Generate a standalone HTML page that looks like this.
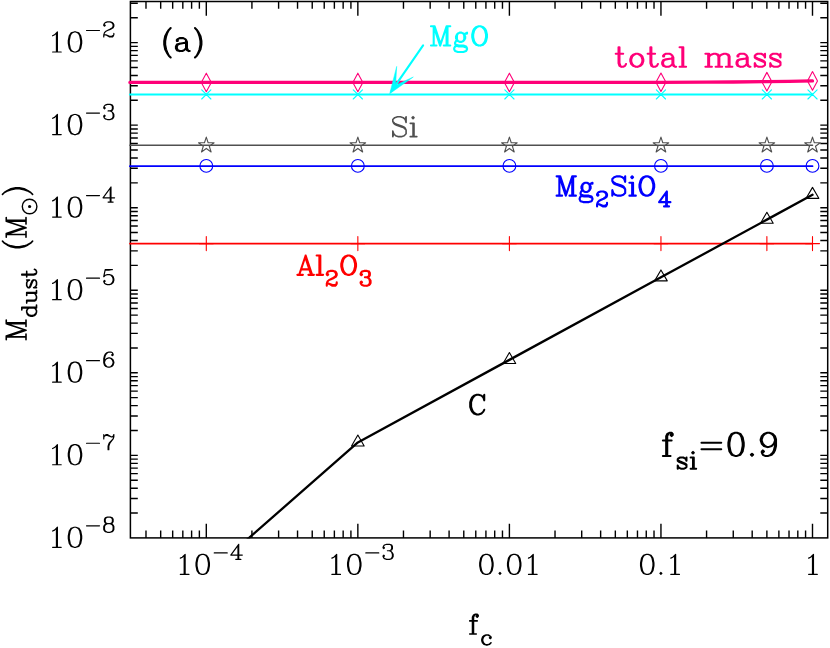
<!DOCTYPE html>
<html lang="en">
<head>
<meta charset="utf-8">
<title>Dust mass versus f_c (panel a, f_si = 0.9)</title>
<style>
html,body{margin:0;padding:0;background:#fff;}
body{width:830px;height:648px;overflow:hidden;font-family:"Liberation Serif",serif;}
svg{display:block;}
.txt text{font-family:"Liberation Serif",serif;fill:#000;fill-opacity:0;stroke:none;}
</style>
</head>
<body>
<svg width="830" height="648" viewBox="0 0 830 648" role="img" aria-label="Log-log plot of dust mass M_dust in solar masses versus f_c for f_si = 0.9">
<rect x="0" y="0" width="830" height="648" fill="#fff"/>
<defs><clipPath id="clipbox"><rect x="130" y="1" width="698" height="537.6"/></clipPath></defs>
<g class="plot">
<path d="M145.99 537.9V530.6M145.99 1.5V8.8M160.68 537.9V530.6M160.68 1.5V8.8M172.68 537.9V530.6M172.68 1.5V8.8M182.82 537.9V530.6M182.82 1.5V8.8M191.61 537.9V530.6M191.61 1.5V8.8M199.37 537.9V530.6M199.37 1.5V8.8M206.3 537.9V523.7M206.3 1.5V15.7M251.92 537.9V530.6M251.92 1.5V8.8M278.61 537.9V530.6M278.61 1.5V8.8M297.54 537.9V530.6M297.54 1.5V8.8M312.23 537.9V530.6M312.23 1.5V8.8M324.23 537.9V530.6M324.23 1.5V8.8M334.37 537.9V530.6M334.37 1.5V8.8M343.16 537.9V530.6M343.16 1.5V8.8M350.92 537.9V530.6M350.92 1.5V8.8M357.85 537.9V523.7M357.85 1.5V15.7M403.47 537.9V530.6M403.47 1.5V8.8M430.16 537.9V530.6M430.16 1.5V8.8M449.09 537.9V530.6M449.09 1.5V8.8M463.78 537.9V530.6M463.78 1.5V8.8M475.78 537.9V530.6M475.78 1.5V8.8M485.92 537.9V530.6M485.92 1.5V8.8M494.71 537.9V530.6M494.71 1.5V8.8M502.47 537.9V530.6M502.47 1.5V8.8M509.4 537.9V523.7M509.4 1.5V15.7M555.02 537.9V530.6M555.02 1.5V8.8M581.71 537.9V530.6M581.71 1.5V8.8M600.64 537.9V530.6M600.64 1.5V8.8M615.33 537.9V530.6M615.33 1.5V8.8M627.33 537.9V530.6M627.33 1.5V8.8M637.47 537.9V530.6M637.47 1.5V8.8M646.26 537.9V530.6M646.26 1.5V8.8M654.02 537.9V530.6M654.02 1.5V8.8M660.95 537.9V523.7M660.95 1.5V15.7M706.57 537.9V530.6M706.57 1.5V8.8M733.26 537.9V530.6M733.26 1.5V8.8M752.19 537.9V530.6M752.19 1.5V8.8M766.88 537.9V530.6M766.88 1.5V8.8M778.88 537.9V530.6M778.88 1.5V8.8M789.02 537.9V530.6M789.02 1.5V8.8M797.81 537.9V530.6M797.81 1.5V8.8M805.57 537.9V530.6M805.57 1.5V8.8M812.5 537.9V523.7M812.5 1.5V15.7M130.4 513.05H137.8M827.7 513.05H820.3M130.4 498.51H137.8M827.7 498.51H820.3M130.4 488.2H137.8M827.7 488.2H820.3M130.4 480.2H137.8M827.7 480.2H820.3M130.4 473.66H137.8M827.7 473.66H820.3M130.4 468.14H137.8M827.7 468.14H820.3M130.4 463.35H137.8M827.7 463.35H820.3M130.4 459.13H137.8M827.7 459.13H820.3M130.4 455.35H137.8M827.7 455.35H820.3M130.4 430.5H137.8M827.7 430.5H820.3M130.4 415.96H137.8M827.7 415.96H820.3M130.4 405.65H137.8M827.7 405.65H820.3M130.4 397.65H137.8M827.7 397.65H820.3M130.4 391.11H137.8M827.7 391.11H820.3M130.4 385.59H137.8M827.7 385.59H820.3M130.4 380.8H137.8M827.7 380.8H820.3M130.4 376.58H137.8M827.7 376.58H820.3M130.4 372.8H137.8M827.7 372.8H820.3M130.4 347.95H137.8M827.7 347.95H820.3M130.4 333.41H137.8M827.7 333.41H820.3M130.4 323.1H137.8M827.7 323.1H820.3M130.4 315.1H137.8M827.7 315.1H820.3M130.4 308.56H137.8M827.7 308.56H820.3M130.4 303.04H137.8M827.7 303.04H820.3M130.4 298.25H137.8M827.7 298.25H820.3M130.4 294.03H137.8M827.7 294.03H820.3M130.4 290.25H137.8M827.7 290.25H820.3M130.4 265.4H137.8M827.7 265.4H820.3M130.4 250.86H137.8M827.7 250.86H820.3M130.4 240.55H137.8M827.7 240.55H820.3M130.4 232.55H137.8M827.7 232.55H820.3M130.4 226.01H137.8M827.7 226.01H820.3M130.4 220.49H137.8M827.7 220.49H820.3M130.4 215.7H137.8M827.7 215.7H820.3M130.4 211.48H137.8M827.7 211.48H820.3M130.4 207.7H137.8M827.7 207.7H820.3M130.4 182.85H137.8M827.7 182.85H820.3M130.4 168.31H137.8M827.7 168.31H820.3M130.4 158H137.8M827.7 158H820.3M130.4 150H137.8M827.7 150H820.3M130.4 143.46H137.8M827.7 143.46H820.3M130.4 137.94H137.8M827.7 137.94H820.3M130.4 133.15H137.8M827.7 133.15H820.3M130.4 128.93H137.8M827.7 128.93H820.3M130.4 125.15H137.8M827.7 125.15H820.3M130.4 100.3H137.8M827.7 100.3H820.3M130.4 85.76H137.8M827.7 85.76H820.3M130.4 75.45H137.8M827.7 75.45H820.3M130.4 67.45H137.8M827.7 67.45H820.3M130.4 60.91H137.8M827.7 60.91H820.3M130.4 55.39H137.8M827.7 55.39H820.3M130.4 50.6H137.8M827.7 50.6H820.3M130.4 46.38H137.8M827.7 46.38H820.3M130.4 42.6H137.8M827.7 42.6H820.3M130.4 17.75H137.8M827.7 17.75H820.3M130.4 3.21H137.8M827.7 3.21H820.3" fill="none" stroke="#000" stroke-width="1.4" stroke-linecap="butt"/>
<rect x="130.4" y="1.5" width="697.3" height="536.4" fill="none" stroke="#000" stroke-width="1.5"/>
<path d="M129.9 82.46 L206.3 82.46 L357.85 82.45 L509.4 82.44 L581.71 82.41 L660.95 82.3 L706.57 82.14 L733.26 81.98 L766.88 81.67 L789.02 81.37 L812.5 80.91" fill="none" stroke="#ff0078" stroke-width="3.3" stroke-linecap="round" stroke-linejoin="round"/>
<path d="M206.3 73.16L211.3 82.46L206.3 91.76L201.3 82.46ZM357.85 73.15L362.85 82.45L357.85 91.75L352.85 82.45ZM509.4 73.14L514.4 82.44L509.4 91.74L504.4 82.44ZM660.95 73L665.95 82.3L660.95 91.6L655.95 82.3ZM766.88 72.37L771.88 81.67L766.88 90.97L761.88 81.67ZM812.5 71.61L817.5 80.91L812.5 90.21L807.5 80.91Z" fill="none" stroke="#ff0078" stroke-width="1.1" stroke-linecap="round" stroke-linejoin="round"/>
<path d="M129.9 94.4H812.5" fill="none" stroke="#00ffff" stroke-width="2" stroke-linecap="round" stroke-linejoin="round"/>
<path d="M201.7 89.8L210.9 99M201.7 99L210.9 89.8M353.25 89.8L362.45 99M353.25 99L362.45 89.8M504.8 89.8L514 99M504.8 99L514 89.8M656.35 89.8L665.55 99M656.35 99L665.55 89.8M762.28 89.8L771.48 99M762.28 99L771.48 89.8M807.9 89.8L817.1 99M807.9 99L817.1 89.8" fill="none" stroke="#00ffff" stroke-width="1.1" stroke-linecap="round" stroke-linejoin="round"/>
<path d="M129.9 145.15H812.5" fill="none" stroke="#505050" stroke-width="1.5" stroke-linecap="round" stroke-linejoin="round"/>
<path d="M206.3 137.1 L208.14 142.77 L214.1 142.77 L209.28 146.27 L211.12 151.93 L206.3 148.43 L201.48 151.93 L203.32 146.27 L198.5 142.77 L204.46 142.77ZM357.85 137.1 L359.69 142.77 L365.65 142.77 L360.83 146.27 L362.67 151.93 L357.85 148.43 L353.03 151.93 L354.87 146.27 L350.05 142.77 L356.01 142.77ZM509.4 137.1 L511.24 142.77 L517.2 142.77 L512.38 146.27 L514.22 151.93 L509.4 148.43 L504.58 151.93 L506.42 146.27 L501.6 142.77 L507.56 142.77ZM660.95 137.1 L662.79 142.77 L668.75 142.77 L663.93 146.27 L665.77 151.93 L660.95 148.43 L656.13 151.93 L657.97 146.27 L653.15 142.77 L659.11 142.77ZM766.88 137.1 L768.72 142.77 L774.68 142.77 L769.86 146.27 L771.7 151.93 L766.88 148.43 L762.06 151.93 L763.9 146.27 L759.08 142.77 L765.04 142.77ZM812.5 137.1 L814.34 142.77 L820.3 142.77 L815.48 146.27 L817.32 151.93 L812.5 148.43 L807.68 151.93 L809.52 146.27 L804.7 142.77 L810.66 142.77Z" fill="none" stroke="#505050" stroke-width="1.1" stroke-linecap="round" stroke-linejoin="round"/>
<path d="M129.9 166.15H812.5" fill="none" stroke="#0000ff" stroke-width="1.8" stroke-linecap="round" stroke-linejoin="round"/>
<circle cx="206.3" cy="165.9" r="6.4" fill="none" stroke="#0000ff" stroke-width="1.1"/>
<circle cx="357.85" cy="165.9" r="6.4" fill="none" stroke="#0000ff" stroke-width="1.1"/>
<circle cx="509.4" cy="165.9" r="6.4" fill="none" stroke="#0000ff" stroke-width="1.1"/>
<circle cx="660.95" cy="165.9" r="6.4" fill="none" stroke="#0000ff" stroke-width="1.1"/>
<circle cx="766.88" cy="165.9" r="6.4" fill="none" stroke="#0000ff" stroke-width="1.1"/>
<circle cx="812.5" cy="165.9" r="6.4" fill="none" stroke="#0000ff" stroke-width="1.1"/>
<path d="M129.9 243.6H812.5" fill="none" stroke="#ff0000" stroke-width="1.7" stroke-linecap="round" stroke-linejoin="round"/>
<path d="M206.3 236.6V250.6M199.3 243.6H213.3M357.85 236.6V250.6M350.85 243.6H364.85M509.4 236.6V250.6M502.4 243.6H516.4M660.95 236.6V250.6M653.95 243.6H667.95M766.88 236.6V250.6M759.88 243.6H773.88M812.5 236.6V250.6M805.5 243.6H819.5" fill="none" stroke="#ff0000" stroke-width="1.1" stroke-linecap="round" stroke-linejoin="round"/>
<path d="M244.44 541.9 L357.85 442.43 L509.4 359.88 L660.95 277.33 L766.88 219.63 L812.5 194.78" fill="none" stroke="#000" stroke-width="2.3" stroke-linecap="round" stroke-linejoin="round" clip-path="url(#clipbox)"/>
<path d="M357.85 435.03 L364.17 445.98 L351.53 445.98ZM509.4 352.48 L515.72 363.43 L503.08 363.43ZM660.95 269.93 L667.27 280.88 L654.63 280.88ZM766.88 212.23 L773.2 223.18 L760.56 223.18ZM812.5 187.38 L818.82 198.33 L806.18 198.33Z" fill="none" stroke="#000" stroke-width="1.1" stroke-linecap="round" stroke-linejoin="round"/>
<path d="M423.1 45.4L391.5 91.2" fill="none" stroke="#00ffff" stroke-width="2.1" stroke-linecap="round" stroke-linejoin="round"/>
<path d="M389.7 93.7L396.7 66.4L395.6 85.2L413.3 77Z" fill="#00ffff" stroke="#00ffff" stroke-width="0.5" stroke-linejoin="round"/>
<path d="M52.62 35.77 L54.53 34.81 L57.39 31.95 L57.39 52M56.44 32.9 L56.44 52M52.62 52 L61.21 52M74.03 31.95 L71.16 32.9 L69.25 35.77 L68.3 40.54 L68.3 43.41 L69.25 48.18 L71.16 51.05 L74.03 52 L75.94 52 L78.8 51.05 L80.71 48.18 L81.67 43.41 L81.67 40.54 L80.71 35.77 L78.8 32.9 L75.94 31.95 L74.03 31.95M74.03 31.95 L72.12 32.9 L71.16 33.86 L70.2 35.77 L69.25 40.54 L69.25 43.41 L70.2 48.18 L71.16 50.09 L72.12 51.05 L74.03 52M75.94 52 L77.84 51.05 L78.8 50.09 L79.76 48.18 L80.71 43.41 L80.71 40.54 L79.76 35.77 L78.8 33.86 L77.84 32.9 L75.94 31.95M86.52 30.52 L99.48 30.52M104.49 24.76 L105.21 25.48 L104.49 26.2 L103.77 25.48 L103.77 24.76 L104.49 23.32 L105.21 22.6 L107.37 21.88 L110.25 21.88 L112.41 22.6 L113.13 23.32 L113.85 24.76 L113.85 26.2 L113.13 27.64 L110.97 29.08 L107.37 30.52 L105.93 31.24 L104.49 32.68 L103.77 34.84 L103.77 37M110.25 21.88 L111.69 22.6 L112.41 23.32 L113.13 24.76 L113.13 26.2 L112.41 27.64 L110.25 29.08 L107.37 30.52M103.77 35.56 L104.49 34.84 L105.93 34.84 L109.53 36.28 L111.69 36.28 L113.13 35.56 L113.85 34.84M105.93 34.84 L109.53 37 L112.41 37 L113.13 36.28 L113.85 34.84 L113.85 33.4M52.62 118.32 L54.53 117.36 L57.39 114.5 L57.39 134.55M56.44 115.45 L56.44 134.55M52.62 134.55 L61.21 134.55M74.03 114.5 L71.16 115.45 L69.25 118.32 L68.3 123.09 L68.3 125.96 L69.25 130.73 L71.16 133.59 L74.03 134.55 L75.94 134.55 L78.8 133.59 L80.71 130.73 L81.67 125.96 L81.67 123.09 L80.71 118.32 L78.8 115.45 L75.94 114.5 L74.03 114.5M74.03 114.5 L72.12 115.45 L71.16 116.41 L70.2 118.32 L69.25 123.09 L69.25 125.96 L70.2 130.73 L71.16 132.64 L72.12 133.59 L74.03 134.55M75.94 134.55 L77.84 133.59 L78.8 132.64 L79.76 130.73 L80.71 125.96 L80.71 123.09 L79.76 118.32 L78.8 116.41 L77.84 115.45 L75.94 114.5M86.52 113.07 L99.48 113.07M104.49 107.31 L105.21 108.03 L104.49 108.75 L103.77 108.03 L103.77 107.31 L104.49 105.87 L105.21 105.15 L107.37 104.43 L110.25 104.43 L112.41 105.15 L113.13 106.59 L113.13 108.75 L112.41 110.19 L110.25 110.91 L108.09 110.91M110.25 104.43 L111.69 105.15 L112.41 106.59 L112.41 108.75 L111.69 110.19 L110.25 110.91M110.25 110.91 L111.69 111.63 L113.13 113.07 L113.85 114.51 L113.85 116.67 L113.13 118.11 L112.41 118.83 L110.25 119.55 L107.37 119.55 L105.21 118.83 L104.49 118.11 L103.77 116.67 L103.77 115.95 L104.49 115.23 L105.21 115.95 L104.49 116.67M112.41 112.35 L113.13 114.51 L113.13 116.67 L112.41 118.11 L111.69 118.83 L110.25 119.55M52.62 200.87 L54.53 199.91 L57.39 197.04 L57.39 217.1M56.44 198 L56.44 217.1M52.62 217.1 L61.21 217.1M74.03 197.04 L71.16 198 L69.25 200.87 L68.3 205.64 L68.3 208.5 L69.25 213.28 L71.16 216.14 L74.03 217.1 L75.94 217.1 L78.8 216.14 L80.71 213.28 L81.67 208.5 L81.67 205.64 L80.71 200.87 L78.8 198 L75.94 197.04 L74.03 197.04M74.03 197.04 L72.12 198 L71.16 198.95 L70.2 200.87 L69.25 205.64 L69.25 208.5 L70.2 213.28 L71.16 215.19 L72.12 216.14 L74.03 217.1M75.94 217.1 L77.84 216.14 L78.8 215.19 L79.76 213.28 L80.71 208.5 L80.71 205.64 L79.76 200.87 L78.8 198.95 L77.84 198 L75.94 197.04M86.52 195.62 L99.48 195.62M110.25 188.42 L110.25 202.1M110.97 186.98 L110.97 202.1M110.97 186.98 L103.05 197.78 L114.57 197.78M108.09 202.1 L113.13 202.1M52.62 283.41 L54.53 282.46 L57.39 279.59 L57.39 299.65M56.44 280.55 L56.44 299.65M52.62 299.65 L61.21 299.65M74.03 279.59 L71.16 280.55 L69.25 283.41 L68.3 288.19 L68.3 291.05 L69.25 295.83 L71.16 298.69 L74.03 299.65 L75.94 299.65 L78.8 298.69 L80.71 295.83 L81.67 291.05 L81.67 288.19 L80.71 283.41 L78.8 280.55 L75.94 279.59 L74.03 279.59M74.03 279.59 L72.12 280.55 L71.16 281.5 L70.2 283.41 L69.25 288.19 L69.25 291.05 L70.2 295.83 L71.16 297.74 L72.12 298.69 L74.03 299.65M75.94 299.65 L77.84 298.69 L78.8 297.74 L79.76 295.83 L80.71 291.05 L80.71 288.19 L79.76 283.41 L78.8 281.5 L77.84 280.55 L75.94 279.59M86.52 278.17 L99.48 278.17M105.21 269.53 L103.77 276.73M103.77 276.73 L105.21 275.29 L107.37 274.57 L109.53 274.57 L111.69 275.29 L113.13 276.73 L113.85 278.89 L113.85 280.33 L113.13 282.49 L111.69 283.93 L109.53 284.65 L107.37 284.65 L105.21 283.93 L104.49 283.21 L103.77 281.77 L103.77 281.05 L104.49 280.33 L105.21 281.05 L104.49 281.77M109.53 274.57 L110.97 275.29 L112.41 276.73 L113.13 278.89 L113.13 280.33 L112.41 282.49 L110.97 283.93 L109.53 284.65M105.21 269.53 L112.41 269.53M105.21 270.25 L108.81 270.25 L112.41 269.53M52.62 365.96 L54.53 365.01 L57.39 362.14 L57.39 382.2M56.44 363.1 L56.44 382.2M52.62 382.2 L61.21 382.2M74.03 362.14 L71.16 363.1 L69.25 365.96 L68.3 370.74 L68.3 373.61 L69.25 378.38 L71.16 381.25 L74.03 382.2 L75.94 382.2 L78.8 381.25 L80.71 378.38 L81.67 373.61 L81.67 370.74 L80.71 365.96 L78.8 363.1 L75.94 362.14 L74.03 362.14M74.03 362.14 L72.12 363.1 L71.16 364.06 L70.2 365.96 L69.25 370.74 L69.25 373.61 L70.2 378.38 L71.16 380.29 L72.12 381.25 L74.03 382.2M75.94 382.2 L77.84 381.25 L78.8 380.29 L79.76 378.38 L80.71 373.61 L80.71 370.74 L79.76 365.96 L78.8 364.06 L77.84 363.1 L75.94 362.14M86.52 360.72 L99.48 360.72M112.41 354.24 L111.69 354.96 L112.41 355.68 L113.13 354.96 L113.13 354.24 L112.41 352.8 L110.97 352.08 L108.81 352.08 L106.65 352.8 L105.21 354.24 L104.49 355.68 L103.77 358.56 L103.77 362.88 L104.49 365.04 L105.93 366.48 L108.09 367.2 L109.53 367.2 L111.69 366.48 L113.13 365.04 L113.85 362.88 L113.85 362.16 L113.13 360 L111.69 358.56 L109.53 357.84 L108.81 357.84 L106.65 358.56 L105.21 360 L104.49 362.16M108.81 352.08 L107.37 352.8 L105.93 354.24 L105.21 355.68 L104.49 358.56 L104.49 362.88 L105.21 365.04 L106.65 366.48 L108.09 367.2M109.53 367.2 L110.97 366.48 L112.41 365.04 L113.13 362.88 L113.13 362.16 L112.41 360 L110.97 358.56 L109.53 357.84M52.62 448.51 L54.53 447.56 L57.39 444.69 L57.39 464.75M56.44 445.65 L56.44 464.75M52.62 464.75 L61.21 464.75M74.03 444.69 L71.16 445.65 L69.25 448.51 L68.3 453.29 L68.3 456.15 L69.25 460.93 L71.16 463.8 L74.03 464.75 L75.94 464.75 L78.8 463.8 L80.71 460.93 L81.67 456.15 L81.67 453.29 L80.71 448.51 L78.8 445.65 L75.94 444.69 L74.03 444.69M74.03 444.69 L72.12 445.65 L71.16 446.61 L70.2 448.51 L69.25 453.29 L69.25 456.15 L70.2 460.93 L71.16 462.84 L72.12 463.8 L74.03 464.75M75.94 464.75 L77.84 463.8 L78.8 462.84 L79.76 460.93 L80.71 456.15 L80.71 453.29 L79.76 448.51 L78.8 446.61 L77.84 445.65 L75.94 444.69M86.52 443.27 L99.48 443.27M103.77 434.63 L103.77 438.95M103.77 437.51 L104.49 436.07 L105.93 434.63 L107.37 434.63 L110.97 436.79 L112.41 436.79 L113.13 436.07 L113.85 434.63M104.49 436.07 L105.93 435.35 L107.37 435.35 L110.97 436.79M113.85 434.63 L113.85 436.79 L113.13 438.95 L110.25 442.55 L109.53 443.99 L108.81 446.15 L108.81 449.75M113.13 438.95 L109.53 442.55 L108.81 443.99 L108.09 446.15 L108.09 449.75M52.62 531.06 L54.53 530.11 L57.39 527.25 L57.39 547.3M56.44 528.2 L56.44 547.3M52.62 547.3 L61.21 547.3M74.03 527.25 L71.16 528.2 L69.25 531.06 L68.3 535.84 L68.3 538.7 L69.25 543.48 L71.16 546.34 L74.03 547.3 L75.94 547.3 L78.8 546.34 L80.71 543.48 L81.67 538.7 L81.67 535.84 L80.71 531.06 L78.8 528.2 L75.94 527.25 L74.03 527.25M74.03 527.25 L72.12 528.2 L71.16 529.15 L70.2 531.06 L69.25 535.84 L69.25 538.7 L70.2 543.48 L71.16 545.39 L72.12 546.34 L74.03 547.3M75.94 547.3 L77.84 546.34 L78.8 545.39 L79.76 543.48 L80.71 538.7 L80.71 535.84 L79.76 531.06 L78.8 529.15 L77.84 528.2 L75.94 527.25M86.52 525.82 L99.48 525.82M107.37 517.18 L105.21 517.9 L104.49 519.34 L104.49 521.5 L105.21 522.94 L107.37 523.66 L110.25 523.66 L112.41 522.94 L113.13 521.5 L113.13 519.34 L112.41 517.9 L110.25 517.18 L107.37 517.18M107.37 517.18 L105.93 517.9 L105.21 519.34 L105.21 521.5 L105.93 522.94 L107.37 523.66M110.25 523.66 L111.69 522.94 L112.41 521.5 L112.41 519.34 L111.69 517.9 L110.25 517.18M107.37 523.66 L105.21 524.38 L104.49 525.1 L103.77 526.54 L103.77 529.42 L104.49 530.86 L105.21 531.58 L107.37 532.3 L110.25 532.3 L112.41 531.58 L113.13 530.86 L113.85 529.42 L113.85 526.54 L113.13 525.1 L112.41 524.38 L110.25 523.66M107.37 523.66 L105.93 524.38 L105.21 525.1 L104.49 526.54 L104.49 529.42 L105.21 530.86 L105.93 531.58 L107.37 532.3M110.25 532.3 L111.69 531.58 L112.41 530.86 L113.13 529.42 L113.13 526.54 L112.41 525.1 L111.69 524.38 L110.25 523.66M180.36 558.16 L182.27 557.21 L185.14 554.35 L185.14 574.4M184.18 555.3 L184.18 574.4M180.36 574.4 L188.96 574.4M201.76 554.35 L198.9 555.3 L196.99 558.16 L196.03 562.94 L196.03 565.8 L196.99 570.58 L198.9 573.44 L201.76 574.4 L203.68 574.4 L206.54 573.44 L208.45 570.58 L209.41 565.8 L209.41 562.94 L208.45 558.16 L206.54 555.3 L203.68 554.35 L201.76 554.35M201.76 554.35 L199.85 555.3 L198.9 556.25 L197.94 558.16 L196.99 562.94 L196.99 565.8 L197.94 570.58 L198.9 572.49 L199.85 573.44 L201.76 574.4M203.68 574.4 L205.59 573.44 L206.54 572.49 L207.5 570.58 L208.45 565.8 L208.45 562.94 L207.5 558.16 L206.54 556.25 L205.59 555.3 L203.68 554.35M214.26 552.92 L227.22 552.92M237.99 545.72 L237.99 559.4M238.71 544.28 L238.71 559.4M238.71 544.28 L230.79 555.08 L242.31 555.08M235.83 559.4 L240.87 559.4M331.91 558.16 L333.82 557.21 L336.68 554.35 L336.68 574.4M335.73 555.3 L335.73 574.4M331.91 574.4 L340.5 574.4M353.31 554.35 L350.45 555.3 L348.54 558.16 L347.58 562.94 L347.58 565.8 L348.54 570.58 L350.45 573.44 L353.31 574.4 L355.22 574.4 L358.09 573.44 L360 570.58 L360.95 565.8 L360.95 562.94 L360 558.16 L358.09 555.3 L355.22 554.35 L353.31 554.35M353.31 554.35 L351.4 555.3 L350.45 556.25 L349.5 558.16 L348.54 562.94 L348.54 565.8 L349.5 570.58 L350.45 572.49 L351.4 573.44 L353.31 574.4M355.22 574.4 L357.13 573.44 L358.09 572.49 L359.04 570.58 L360 565.8 L360 562.94 L359.04 558.16 L358.09 556.25 L357.13 555.3 L355.22 554.35M365.81 552.92 L378.77 552.92M383.78 547.16 L384.5 547.88 L383.78 548.6 L383.06 547.88 L383.06 547.16 L383.78 545.72 L384.5 545 L386.66 544.28 L389.54 544.28 L391.7 545 L392.42 546.44 L392.42 548.6 L391.7 550.04 L389.54 550.76 L387.38 550.76M389.54 544.28 L390.98 545 L391.7 546.44 L391.7 548.6 L390.98 550.04 L389.54 550.76M389.54 550.76 L390.98 551.48 L392.42 552.92 L393.14 554.36 L393.14 556.52 L392.42 557.96 L391.7 558.68 L389.54 559.4 L386.66 559.4 L384.5 558.68 L383.78 557.96 L383.06 556.52 L383.06 555.8 L383.78 555.08 L384.5 555.8 L383.78 556.52M391.7 552.2 L392.42 554.36 L392.42 556.52 L391.7 557.96 L390.98 558.68 L389.54 559.4M485.44 554.35 L482.58 555.3 L480.67 558.16 L479.71 562.94 L479.71 565.8 L480.67 570.58 L482.58 573.44 L485.44 574.4 L487.35 574.4 L490.22 573.44 L492.13 570.58 L493.08 565.8 L493.08 562.94 L492.13 558.16 L490.22 555.3 L487.35 554.35 L485.44 554.35M485.44 554.35 L483.53 555.3 L482.58 556.25 L481.62 558.16 L480.67 562.94 L480.67 565.8 L481.62 570.58 L482.58 572.49 L483.53 573.44 L485.44 574.4M487.35 574.4 L489.26 573.44 L490.22 572.49 L491.17 570.58 L492.13 565.8 L492.13 562.94 L491.17 558.16 L490.22 556.25 L489.26 555.3 L487.35 554.35M499.98 572.49 L499.03 573.44 L499.98 574.4 L500.94 573.44 L499.98 572.49M513.25 554.35 L510.38 555.3 L508.47 558.16 L507.52 562.94 L507.52 565.8 L508.47 570.58 L510.38 573.44 L513.25 574.4 L515.16 574.4 L518.02 573.44 L519.93 570.58 L520.88 565.8 L520.88 562.94 L519.93 558.16 L518.02 555.3 L515.16 554.35 L513.25 554.35M513.25 554.35 L511.34 555.3 L510.38 556.25 L509.43 558.16 L508.47 562.94 L508.47 565.8 L509.43 570.58 L510.38 572.49 L511.34 573.44 L513.25 574.4M515.16 574.4 L517.07 573.44 L518.02 572.49 L518.98 570.58 L519.93 565.8 L519.93 562.94 L518.98 558.16 L518.02 556.25 L517.07 555.3 L515.16 554.35M528.48 558.16 L530.39 557.21 L533.25 554.35 L533.25 574.4M532.3 555.3 L532.3 574.4M528.48 574.4 L537.07 574.4M646.29 554.35 L643.43 555.3 L641.52 558.16 L640.57 562.94 L640.57 565.8 L641.52 570.58 L643.43 573.44 L646.29 574.4 L648.21 574.4 L651.07 573.44 L652.98 570.58 L653.93 565.8 L653.93 562.94 L652.98 558.16 L651.07 555.3 L648.21 554.35 L646.29 554.35M646.29 554.35 L644.38 555.3 L643.43 556.25 L642.48 558.16 L641.52 562.94 L641.52 565.8 L642.48 570.58 L643.43 572.49 L644.38 573.44 L646.29 574.4M648.21 574.4 L650.12 573.44 L651.07 572.49 L652.02 570.58 L652.98 565.8 L652.98 562.94 L652.02 558.16 L651.07 556.25 L650.12 555.3 L648.21 554.35M660.9 572.49 L659.94 573.44 L660.9 574.4 L661.86 573.44 L660.9 572.49M670.83 558.16 L672.74 557.21 L675.61 554.35 L675.61 574.4M674.65 555.3 L674.65 574.4M670.83 574.4 L679.42 574.4M808.68 558.16 L810.59 557.21 L813.46 554.35 L813.46 574.4M812.5 555.3 L812.5 574.4M808.68 574.4 L817.27 574.4" fill="none" stroke="#000" stroke-width="1.2" stroke-linecap="round" stroke-linejoin="round"/>
<path d="M477.22 615.25 L476.28 616.19 L477.22 617.13 L478.16 616.19 L478.16 615.25 L477.22 614.31 L475.34 614.31 L473.46 615.25 L472.52 617.13 L472.52 634.05M475.34 614.31 L474.4 615.25 L473.46 617.13 L473.46 634.05M469.7 620.89 L477.22 620.89M469.7 634.05 L476.28 634.05M490.3 637.15 L489.6 637.85 L490.3 638.55 L491 637.85 L491 637.15 L489.6 635.75 L488.2 635.05 L486.1 635.05 L484 635.75 L482.6 637.15 L481.9 639.25 L481.9 640.65 L482.6 642.75 L484 644.15 L486.1 644.85 L487.5 644.85 L489.6 644.15 L491 642.75M486.1 635.05 L484.7 635.75 L483.3 637.15 L482.6 639.25 L482.6 640.65 L483.3 642.75 L484.7 644.15 L486.1 644.85M6.26 336.88 L26 336.88M6.26 335.94 L23.18 330.3M6.26 336.88 L26 330.3M6.26 323.72 L26 330.3M6.26 323.72 L26 323.72M6.26 322.78 L26 322.78M6.26 339.7 L6.26 335.94M6.26 323.72 L6.26 319.96M26 339.7 L26 334.06M26 326.54 L26 319.96M21.8 307.9 L36.5 307.9M21.8 307.2 L36.5 307.2M28.8 307.9 L27.4 309.3 L26.7 310.7 L26.7 312.1 L27.4 314.2 L28.8 315.6 L30.9 316.3 L32.3 316.3 L34.4 315.6 L35.8 314.2 L36.5 312.1 L36.5 310.7 L35.8 309.3 L34.4 307.9M26.7 312.1 L27.4 313.5 L28.8 314.9 L30.9 315.6 L32.3 315.6 L34.4 314.9 L35.8 313.5 L36.5 312.1M21.8 310 L21.8 307.2M36.5 307.9 L36.5 305.1M26.7 301 L34.4 301 L35.8 300.3 L36.5 298.2 L36.5 296.8 L35.8 294.7 L34.4 293.3M26.7 300.3 L34.4 300.3 L35.8 299.6 L36.5 298.2M26.7 293.3 L36.5 293.3M26.7 292.6 L36.5 292.6M26.7 303.1 L26.7 300.3M26.7 295.4 L26.7 292.6M36.5 293.3 L36.5 290.5M28.1 280.65 L26.7 279.95 L29.5 279.95 L28.1 280.65 L27.4 281.35 L26.7 282.75 L26.7 285.55 L27.4 286.95 L28.1 287.65 L29.5 287.65 L30.2 286.95 L30.9 285.55 L32.3 282.05 L33 280.65 L33.7 279.95M28.8 287.65 L29.5 286.95 L30.2 285.55 L31.6 282.05 L32.3 280.65 L33 279.95 L35.1 279.95 L35.8 280.65 L36.5 282.05 L36.5 284.85 L35.8 286.25 L35.1 286.95 L33.7 287.65 L36.5 287.65 L35.1 286.95M21.8 274.9 L33.7 274.9 L35.8 274.2 L36.5 272.8 L36.5 271.4 L35.8 270 L34.4 269.3M21.8 274.2 L33.7 274.2 L35.8 273.5 L36.5 272.8M26.7 277 L26.7 271.4M2.5 241.19 L4.38 243.07 L7.2 244.95 L10.96 246.83 L15.66 247.77 L19.42 247.77 L24.12 246.83 L27.88 244.95 L30.7 243.07 L32.58 241.19M4.38 243.07 L8.14 244.95 L10.96 245.89 L15.66 246.83 L19.42 246.83 L24.12 245.89 L26.94 244.95 L30.7 243.07M6.26 234.43 L26 234.43M6.26 233.49 L23.18 227.85M6.26 234.43 L26 227.85M6.26 221.27 L26 227.85M6.26 221.27 L26 221.27M6.26 220.33 L26 220.33M6.26 237.25 L6.26 233.49M6.26 221.27 L6.26 217.51M26 237.25 L26 231.61M26 224.09 L26 217.51M2.5 194.41 L4.38 192.53 L7.2 190.65 L10.96 188.77 L15.66 187.83 L19.42 187.83 L24.12 188.77 L27.88 190.65 L30.7 192.53 L32.58 194.41M4.38 192.53 L8.14 190.65 L10.96 189.71 L15.66 188.77 L19.42 188.77 L24.12 189.71 L26.94 190.65 L30.7 192.53" fill="none" stroke="#000" stroke-width="1.6" stroke-linecap="round" stroke-linejoin="round"/>
<circle cx="29.6" cy="206.5" r="7.3" fill="none" stroke="#000" stroke-width="1.4"/>
<circle cx="29.6" cy="206.5" r="1.6" fill="#000"/>
<path d="M170.68 28.05 L168.84 29.89 L167 32.65 L165.16 36.33 L164.24 40.93 L164.24 44.61 L165.16 49.21 L167 52.89 L168.84 55.65 L170.68 57.49M168.84 29.89 L167 33.57 L166.08 36.33 L165.16 40.93 L165.16 44.61 L166.08 49.21 L167 51.97 L168.84 55.65M177.77 40.01 L177.77 40.93 L176.85 40.93 L176.85 40.01 L177.77 39.09 L179.61 38.17 L183.29 38.17 L185.13 39.09 L186.05 40.01 L186.97 41.85 L186.97 48.29 L187.89 50.13 L188.81 51.05M186.05 40.01 L186.05 48.29 L186.97 50.13 L188.81 51.05 L189.73 51.05M186.05 41.85 L185.13 42.77 L179.61 43.69 L176.85 44.61 L175.93 46.45 L175.93 48.29 L176.85 50.13 L179.61 51.05 L182.37 51.05 L184.21 50.13 L186.05 48.29M179.61 43.69 L177.77 44.61 L176.85 46.45 L176.85 48.29 L177.77 50.13 L179.61 51.05M194.97 28.05 L196.81 29.89 L198.65 32.65 L200.49 36.33 L201.41 40.93 L201.41 44.61 L200.49 49.21 L198.65 52.89 L196.81 55.65 L194.97 57.49M196.81 29.89 L198.65 33.57 L199.57 36.33 L200.49 40.93 L200.49 44.61 L199.57 49.21 L198.65 51.97 L196.81 55.65" fill="none" stroke="#000" stroke-width="2.1" stroke-linecap="round" stroke-linejoin="round"/>
<path d="M433.71 26.23 L433.71 45.55M434.63 26.23 L440.15 42.79M433.71 26.23 L440.15 45.55M446.59 26.23 L440.15 45.55M446.59 26.23 L446.59 45.55M447.51 26.23 L447.51 45.55M430.95 26.23 L434.63 26.23M446.59 26.23 L450.27 26.23M430.95 45.55 L436.47 45.55M443.83 45.55 L450.27 45.55M459.68 32.67 L457.84 33.59 L456.92 34.51 L456 36.35 L456 38.19 L456.92 40.03 L457.84 40.95 L459.68 41.87 L461.52 41.87 L463.36 40.95 L464.28 40.03 L465.2 38.19 L465.2 36.35 L464.28 34.51 L463.36 33.59 L461.52 32.67 L459.68 32.67M457.84 33.59 L456.92 35.43 L456.92 39.11 L457.84 40.95M463.36 40.95 L464.28 39.11 L464.28 35.43 L463.36 33.59M464.28 34.51 L465.2 33.59 L467.04 32.67 L467.04 33.59 L465.2 33.59M456.92 40.03 L456 40.95 L455.08 42.79 L455.08 43.71 L456 45.55 L458.76 46.47 L463.36 46.47 L466.12 47.39 L467.04 48.31M455.08 43.71 L456 44.63 L458.76 45.55 L463.36 45.55 L466.12 46.47 L467.04 48.31 L467.04 49.23 L466.12 51.07 L463.36 51.99 L457.84 51.99 L455.08 51.07 L454.16 49.23 L454.16 48.31 L455.08 46.47 L457.84 45.55M478.68 26.23 L475.92 27.15 L474.08 28.99 L473.16 30.83 L472.24 34.51 L472.24 37.27 L473.16 40.95 L474.08 42.79 L475.92 44.63 L478.68 45.55 L480.52 45.55 L483.28 44.63 L485.12 42.79 L486.04 40.95 L486.96 37.27 L486.96 34.51 L486.04 30.83 L485.12 28.99 L483.28 27.15 L480.52 26.23 L478.68 26.23M478.68 26.23 L476.84 27.15 L475 28.99 L474.08 30.83 L473.16 34.51 L473.16 37.27 L474.08 40.95 L475 42.79 L476.84 44.63 L478.68 45.55M480.52 45.55 L482.36 44.63 L484.2 42.79 L485.12 40.95 L486.04 37.27 L486.04 34.51 L485.12 30.83 L484.2 28.99 L482.36 27.15 L480.52 26.23" fill="none" stroke="#00ffff" stroke-width="2.1" stroke-linecap="round" stroke-linejoin="round"/>
<path d="M618.54 47.27 L618.54 63.08 L619.47 65.87 L621.33 66.8 L623.19 66.8 L625.05 65.87 L625.98 64.01M619.47 47.27 L619.47 63.08 L620.4 65.87 L621.33 66.8M615.75 53.78 L623.19 53.78M635.87 53.78 L633.08 54.71 L631.22 56.57 L630.29 59.36 L630.29 61.22 L631.22 64.01 L633.08 65.87 L635.87 66.8 L637.73 66.8 L640.52 65.87 L642.38 64.01 L643.31 61.22 L643.31 59.36 L642.38 56.57 L640.52 54.71 L637.73 53.78 L635.87 53.78M635.87 53.78 L634.01 54.71 L632.15 56.57 L631.22 59.36 L631.22 61.22 L632.15 64.01 L634.01 65.87 L635.87 66.8M637.73 66.8 L639.59 65.87 L641.45 64.01 L642.38 61.22 L642.38 59.36 L641.45 56.57 L639.59 54.71 L637.73 53.78M650.42 47.27 L650.42 63.08 L651.36 65.87 L653.21 66.8 L655.07 66.8 L656.93 65.87 L657.87 64.01M651.36 47.27 L651.36 63.08 L652.28 65.87 L653.21 66.8M647.63 53.78 L655.07 53.78M664.05 55.64 L664.05 56.57 L663.12 56.57 L663.12 55.64 L664.05 54.71 L665.91 53.78 L669.63 53.78 L671.49 54.71 L672.42 55.64 L673.35 57.5 L673.35 64.01 L674.28 65.87 L675.21 66.8M672.42 55.64 L672.42 64.01 L673.35 65.87 L675.21 66.8 L676.14 66.8M672.42 57.5 L671.49 58.43 L665.91 59.36 L663.12 60.29 L662.19 62.15 L662.19 64.01 L663.12 65.87 L665.91 66.8 L668.7 66.8 L670.56 65.87 L672.42 64.01M665.91 59.36 L664.05 60.29 L663.12 62.15 L663.12 64.01 L664.05 65.87 L665.91 66.8M682.35 47.27 L682.35 66.8M683.28 47.27 L683.28 66.8M679.56 47.27 L683.28 47.27M679.56 66.8 L686.07 66.8M708.19 53.78 L708.19 66.8M709.12 53.78 L709.12 66.8M709.12 56.57 L710.98 54.71 L713.77 53.78 L715.63 53.78 L718.42 54.71 L719.35 56.57 L719.35 66.8M715.63 53.78 L717.49 54.71 L718.42 56.57 L718.42 66.8M719.35 56.57 L721.21 54.71 L724 53.78 L725.86 53.78 L728.65 54.71 L729.58 56.57 L729.58 66.8M725.86 53.78 L727.72 54.71 L728.65 56.57 L728.65 66.8M705.4 53.78 L709.12 53.78M705.4 66.8 L711.91 66.8M715.63 66.8 L722.14 66.8M725.86 66.8 L732.37 66.8M738.39 55.64 L738.39 56.57 L737.46 56.57 L737.46 55.64 L738.39 54.71 L740.25 53.78 L743.97 53.78 L745.83 54.71 L746.76 55.64 L747.69 57.5 L747.69 64.01 L748.62 65.87 L749.55 66.8M746.76 55.64 L746.76 64.01 L747.69 65.87 L749.55 66.8 L750.48 66.8M746.76 57.5 L745.83 58.43 L740.25 59.36 L737.46 60.29 L736.53 62.15 L736.53 64.01 L737.46 65.87 L740.25 66.8 L743.04 66.8 L744.9 65.87 L746.76 64.01M740.25 59.36 L738.39 60.29 L737.46 62.15 L737.46 64.01 L738.39 65.87 L740.25 66.8M764.07 55.64 L765 53.78 L765 57.5 L764.07 55.64 L763.14 54.71 L761.28 53.78 L757.56 53.78 L755.7 54.71 L754.77 55.64 L754.77 57.5 L755.7 58.43 L757.56 59.36 L762.21 61.22 L764.07 62.15 L765 63.08M754.77 56.57 L755.7 57.5 L757.56 58.43 L762.21 60.29 L764.07 61.22 L765 62.15 L765 64.94 L764.07 65.87 L762.21 66.8 L758.49 66.8 L756.63 65.87 L755.7 64.94 L754.77 63.08 L754.77 66.8 L755.7 64.94M779.56 55.64 L780.49 53.78 L780.49 57.5 L779.56 55.64 L778.63 54.71 L776.77 53.78 L773.05 53.78 L771.19 54.71 L770.26 55.64 L770.26 57.5 L771.19 58.43 L773.05 59.36 L777.7 61.22 L779.56 62.15 L780.49 63.08M770.26 56.57 L771.19 57.5 L773.05 58.43 L777.7 60.29 L779.56 61.22 L780.49 62.15 L780.49 64.94 L779.56 65.87 L777.7 66.8 L773.98 66.8 L772.12 65.87 L771.19 64.94 L770.26 63.08 L770.26 66.8 L771.19 64.94" fill="none" stroke="#ff0078" stroke-width="2.1" stroke-linecap="round" stroke-linejoin="round"/>
<path d="M405.15 119.55 L406.1 116.7 L406.1 122.4 L405.15 119.55 L403.25 117.65 L400.4 116.7 L397.55 116.7 L394.7 117.65 L392.8 119.55 L392.8 121.45 L393.75 123.35 L394.7 124.3 L396.6 125.25 L402.3 127.15 L404.2 128.1 L406.1 130M392.8 121.45 L394.7 123.35 L396.6 124.3 L402.3 126.2 L404.2 127.15 L405.15 128.1 L406.1 130 L406.1 133.8 L404.2 135.7 L401.35 136.65 L398.5 136.65 L395.65 135.7 L393.75 133.8 L392.8 130.95 L392.8 136.65 L393.75 133.8M413.05 116.7 L412.1 117.65 L413.05 118.6 L414 117.65 L413.05 116.7M413.05 123.35 L413.05 136.65M414 123.35 L414 136.65M410.2 123.35 L414 123.35M410.2 136.65 L416.85 136.65" fill="none" stroke="#505050" stroke-width="1.6" stroke-linecap="round" stroke-linejoin="round"/>
<path d="M559.36 176.33 L559.36 195.65M560.28 176.33 L565.8 192.89M559.36 176.33 L565.8 195.65M572.24 176.33 L565.8 195.65M572.24 176.33 L572.24 195.65M573.16 176.33 L573.16 195.65M556.6 176.33 L560.28 176.33M572.24 176.33 L575.92 176.33M556.6 195.65 L562.12 195.65M569.48 195.65 L575.92 195.65M585.13 182.77 L583.29 183.69 L582.37 184.61 L581.45 186.45 L581.45 188.29 L582.37 190.13 L583.29 191.05 L585.13 191.97 L586.97 191.97 L588.81 191.05 L589.73 190.13 L590.65 188.29 L590.65 186.45 L589.73 184.61 L588.81 183.69 L586.97 182.77 L585.13 182.77M583.29 183.69 L582.37 185.53 L582.37 189.21 L583.29 191.05M588.81 191.05 L589.73 189.21 L589.73 185.53 L588.81 183.69M589.73 184.61 L590.65 183.69 L592.49 182.77 L592.49 183.69 L590.65 183.69M582.37 190.13 L581.45 191.05 L580.53 192.89 L580.53 193.81 L581.45 195.65 L584.21 196.57 L588.81 196.57 L591.57 197.49 L592.49 198.41M580.53 193.81 L581.45 194.73 L584.21 195.65 L588.81 195.65 L591.57 196.57 L592.49 198.41 L592.49 199.33 L591.57 201.17 L588.81 202.09 L583.29 202.09 L580.53 201.17 L579.61 199.33 L579.61 198.41 L580.53 196.57 L583.29 195.65M597.79 194.33 L598.5 195.04 L597.79 195.75 L597.08 195.04 L597.08 194.33 L597.79 192.91 L598.5 192.2 L600.63 191.49 L603.47 191.49 L605.6 192.2 L606.31 192.91 L607.02 194.33 L607.02 195.75 L606.31 197.17 L604.18 198.59 L600.63 200.01 L599.21 200.72 L597.79 202.14 L597.08 204.27 L597.08 206.4M603.47 191.49 L604.89 192.2 L605.6 192.91 L606.31 194.33 L606.31 195.75 L605.6 197.17 L603.47 198.59 L600.63 200.01M597.08 204.98 L597.79 204.27 L599.21 204.27 L602.76 205.69 L604.89 205.69 L606.31 204.98 L607.02 204.27M599.21 204.27 L602.76 206.4 L605.6 206.4 L606.31 205.69 L607.02 204.27 L607.02 202.85M624.27 179.09 L625.19 176.33 L625.19 181.85 L624.27 179.09 L622.43 177.25 L619.67 176.33 L616.91 176.33 L614.15 177.25 L612.31 179.09 L612.31 180.93 L613.23 182.77 L614.15 183.69 L615.99 184.61 L621.51 186.45 L623.35 187.37 L625.19 189.21M612.31 180.93 L614.15 182.77 L615.99 183.69 L621.51 185.53 L623.35 186.45 L624.27 187.37 L625.19 189.21 L625.19 192.89 L623.35 194.73 L620.59 195.65 L617.83 195.65 L615.07 194.73 L613.23 192.89 L612.31 190.13 L612.31 195.65 L613.23 192.89M632.15 176.33 L631.23 177.25 L632.15 178.17 L633.07 177.25 L632.15 176.33M632.15 182.77 L632.15 195.65M633.07 182.77 L633.07 195.65M629.39 182.77 L633.07 182.77M629.39 195.65 L635.83 195.65M645.93 176.33 L643.17 177.25 L641.33 179.09 L640.41 180.93 L639.49 184.61 L639.49 187.37 L640.41 191.05 L641.33 192.89 L643.17 194.73 L645.93 195.65 L647.77 195.65 L650.53 194.73 L652.37 192.89 L653.29 191.05 L654.21 187.37 L654.21 184.61 L653.29 180.93 L652.37 179.09 L650.53 177.25 L647.77 176.33 L645.93 176.33M645.93 176.33 L644.09 177.25 L642.25 179.09 L641.33 180.93 L640.41 184.61 L640.41 187.37 L641.33 191.05 L642.25 192.89 L644.09 194.73 L645.93 195.65M647.77 195.65 L649.61 194.73 L651.45 192.89 L652.37 191.05 L653.29 187.37 L653.29 184.61 L652.37 180.93 L651.45 179.09 L649.61 177.25 L647.77 176.33M666.17 192.91 L666.17 206.4M666.88 191.49 L666.88 206.4M666.88 191.49 L659.07 202.14 L670.43 202.14M664.04 206.4 L669.01 206.4" fill="none" stroke="#0000ff" stroke-width="2.1" stroke-linecap="round" stroke-linejoin="round"/>
<path d="M305.65 255.53 L299.21 274.85M305.65 255.53 L312.09 274.85M305.65 258.29 L311.17 274.85M301.05 269.33 L309.33 269.33M297.37 274.85 L302.89 274.85M308.41 274.85 L313.93 274.85M319.4 255.53 L319.4 274.85M320.32 255.53 L320.32 274.85M316.64 255.53 L320.32 255.53M316.64 274.85 L323.08 274.85M327.49 273.73 L328.2 274.44 L327.49 275.15 L326.78 274.44 L326.78 273.73 L327.49 272.31 L328.2 271.6 L330.33 270.89 L333.17 270.89 L335.3 271.6 L336.01 272.31 L336.72 273.73 L336.72 275.15 L336.01 276.57 L333.88 277.99 L330.33 279.41 L328.91 280.12 L327.49 281.54 L326.78 283.67 L326.78 285.8M333.17 270.89 L334.59 271.6 L335.3 272.31 L336.01 273.73 L336.01 275.15 L335.3 276.57 L333.17 277.99 L330.33 279.41M326.78 284.38 L327.49 283.67 L328.91 283.67 L332.46 285.09 L334.59 285.09 L336.01 284.38 L336.72 283.67M328.91 283.67 L332.46 285.8 L335.3 285.8 L336.01 285.09 L336.72 283.67 L336.72 282.25M347.73 255.53 L344.97 256.45 L343.13 258.29 L342.21 260.13 L341.29 263.81 L341.29 266.57 L342.21 270.25 L343.13 272.09 L344.97 273.93 L347.73 274.85 L349.57 274.85 L352.33 273.93 L354.17 272.09 L355.09 270.25 L356.01 266.57 L356.01 263.81 L355.09 260.13 L354.17 258.29 L352.33 256.45 L349.57 255.53 L347.73 255.53M347.73 255.53 L345.89 256.45 L344.05 258.29 L343.13 260.13 L342.21 263.81 L342.21 266.57 L343.13 270.25 L344.05 272.09 L345.89 273.93 L347.73 274.85M349.57 274.85 L351.41 273.93 L353.25 272.09 L354.17 270.25 L355.09 266.57 L355.09 263.81 L354.17 260.13 L353.25 258.29 L351.41 256.45 L349.57 255.53M361.34 273.73 L362.05 274.44 L361.34 275.15 L360.63 274.44 L360.63 273.73 L361.34 272.31 L362.05 271.6 L364.18 270.89 L367.02 270.89 L369.15 271.6 L369.86 273.02 L369.86 275.15 L369.15 276.57 L367.02 277.28 L364.89 277.28M367.02 270.89 L368.44 271.6 L369.15 273.02 L369.15 275.15 L368.44 276.57 L367.02 277.28M367.02 277.28 L368.44 277.99 L369.86 279.41 L370.57 280.83 L370.57 282.96 L369.86 284.38 L369.15 285.09 L367.02 285.8 L364.18 285.8 L362.05 285.09 L361.34 284.38 L360.63 282.96 L360.63 282.25 L361.34 281.54 L362.05 282.25 L361.34 282.96M369.15 278.7 L369.86 280.83 L369.86 282.96 L369.15 284.38 L368.44 285.09 L367.02 285.8" fill="none" stroke="#ff0000" stroke-width="2.1" stroke-linecap="round" stroke-linejoin="round"/>
<path d="M483.34 397.53 L484.28 400.35 L484.28 394.71 L483.34 397.53 L481.46 395.65 L478.64 394.71 L476.76 394.71 L473.94 395.65 L472.06 397.53 L471.12 399.41 L470.18 402.23 L470.18 406.93 L471.12 409.75 L472.06 411.63 L473.94 413.51 L476.76 414.45 L478.64 414.45 L481.46 413.51 L483.34 411.63 L484.28 409.75M476.76 394.71 L474.88 395.65 L473 397.53 L472.06 399.41 L471.12 402.23 L471.12 406.93 L472.06 409.75 L473 411.63 L474.88 413.51 L476.76 414.45" fill="none" stroke="#000" stroke-width="2" stroke-linecap="round" stroke-linejoin="round"/>
<path d="M671.65 433.9 L670.55 435 L671.65 436.1 L672.75 435 L672.75 433.9 L671.65 432.8 L669.45 432.8 L667.25 433.9 L666.15 436.1 L666.15 455.9M669.45 432.8 L668.35 433.9 L667.25 436.1 L667.25 455.9M662.85 440.5 L671.65 440.5M662.85 455.9 L670.55 455.9M685.7 459.1 L686.5 457.5 L686.5 460.7 L685.7 459.1 L684.9 458.3 L683.3 457.5 L680.1 457.5 L678.5 458.3 L677.7 459.1 L677.7 460.7 L678.5 461.5 L680.1 462.3 L684.1 463.9 L685.7 464.7 L686.5 465.5M677.7 459.9 L678.5 460.7 L680.1 461.5 L684.1 463.1 L685.7 463.9 L686.5 464.7 L686.5 467.1 L685.7 467.9 L684.1 468.7 L680.9 468.7 L679.3 467.9 L678.5 467.1 L677.7 465.5 L677.7 468.7 L678.5 467.1M693 451.9 L692.2 452.7 L693 453.5 L693.8 452.7 L693 451.9M693 457.5 L693 468.7M693.8 457.5 L693.8 468.7M690.6 457.5 L693.8 457.5M690.6 468.7 L696.2 468.7M701.45 442.7 L721.25 442.7M701.45 449.3 L721.25 449.3M734.95 432.8 L731.65 433.9 L729.45 437.2 L728.35 442.7 L728.35 446 L729.45 451.5 L731.65 454.8 L734.95 455.9 L737.15 455.9 L740.45 454.8 L742.65 451.5 L743.75 446 L743.75 442.7 L742.65 437.2 L740.45 433.9 L737.15 432.8 L734.95 432.8M734.95 432.8 L732.75 433.9 L731.65 435 L730.55 437.2 L729.45 442.7 L729.45 446 L730.55 451.5 L731.65 453.7 L732.75 454.8 L734.95 455.9M737.15 455.9 L739.35 454.8 L740.45 453.7 L741.55 451.5 L742.65 446 L742.65 442.7 L741.55 437.2 L740.45 435 L739.35 433.9 L737.15 432.8M752 453.7 L750.9 454.8 L752 455.9 L753.1 454.8 L752 453.7M774.95 440.5 L773.85 443.8 L771.65 446 L768.35 447.1 L767.25 447.1 L763.95 446 L761.75 443.8 L760.65 440.5 L760.65 439.4 L761.75 436.1 L763.95 433.9 L767.25 432.8 L769.45 432.8 L772.75 433.9 L774.95 436.1 L776.05 439.4 L776.05 446 L774.95 450.4 L773.85 452.6 L771.65 454.8 L768.35 455.9 L765.05 455.9 L762.85 454.8 L761.75 452.6 L761.75 451.5 L762.85 450.4 L763.95 451.5 L762.85 452.6M767.25 447.1 L765.05 446 L762.85 443.8 L761.75 440.5 L761.75 439.4 L762.85 436.1 L765.05 433.9 L767.25 432.8M769.45 432.8 L771.65 433.9 L773.85 436.1 L774.95 439.4 L774.95 446 L773.85 450.4 L772.75 452.6 L770.55 454.8 L768.35 455.9" fill="none" stroke="#000" stroke-width="2" stroke-linecap="round" stroke-linejoin="round"/>
</g>
<g class="txt">
<text x="52" y="52" font-size="30" text-anchor="start">10<tspan dy="-14" font-size="22">−2</tspan></text>
<text x="52" y="134.55" font-size="30" text-anchor="start">10<tspan dy="-14" font-size="22">−3</tspan></text>
<text x="52" y="217.1" font-size="30" text-anchor="start">10<tspan dy="-14" font-size="22">−4</tspan></text>
<text x="52" y="299.65" font-size="30" text-anchor="start">10<tspan dy="-14" font-size="22">−5</tspan></text>
<text x="52" y="382.2" font-size="30" text-anchor="start">10<tspan dy="-14" font-size="22">−6</tspan></text>
<text x="52" y="464.75" font-size="30" text-anchor="start">10<tspan dy="-14" font-size="22">−7</tspan></text>
<text x="52" y="547.3" font-size="30" text-anchor="start">10<tspan dy="-14" font-size="22">−8</tspan></text>
<text x="180" y="574.4" font-size="30" text-anchor="start">10<tspan dy="-14" font-size="22">−4</tspan></text>
<text x="331.55" y="574.4" font-size="30" text-anchor="start">10<tspan dy="-14" font-size="22">−3</tspan></text>
<text x="479" y="574.4" font-size="30" text-anchor="start">0.01</text>
<text x="640" y="574.4" font-size="30" text-anchor="start">0.1</text>
<text x="806" y="574.4" font-size="30" text-anchor="start">1</text>
<text x="469" y="634" font-size="30" text-anchor="start">f<tspan dy="10" font-size="22">c</tspan></text>
<text x="26" y="340" font-size="30" text-anchor="start" transform="rotate(-90 26 340)">M<tspan dy="10" font-size="22">dust</tspan><tspan dy="-10"> (M</tspan><tspan dy="4" font-size="22">⊙</tspan><tspan dy="-4">)</tspan></text>
<text x="163" y="51" font-size="30" text-anchor="start">(a)</text>
<text x="430" y="45.5" font-size="30" text-anchor="start">MgO</text>
<text x="615" y="67" font-size="30" text-anchor="start">total mass</text>
<text x="392" y="136.6" font-size="30" text-anchor="start">Si</text>
<text x="556" y="195.6" font-size="30" text-anchor="start">Mg<tspan dy="10" font-size="22">2</tspan><tspan dy="-10">SiO</tspan><tspan dy="10" font-size="22">4</tspan></text>
<text x="296" y="274.8" font-size="30" text-anchor="start">Al<tspan dy="10" font-size="22">2</tspan><tspan dy="-10">O</tspan><tspan dy="10" font-size="22">3</tspan></text>
<text x="469" y="414.4" font-size="30" text-anchor="start">C</text>
<text x="662" y="456" font-size="35" text-anchor="start">f<tspan dy="12" font-size="26">si</tspan><tspan dy="-12">=0.9</tspan></text>
</g>
</svg>
</body>
</html>
